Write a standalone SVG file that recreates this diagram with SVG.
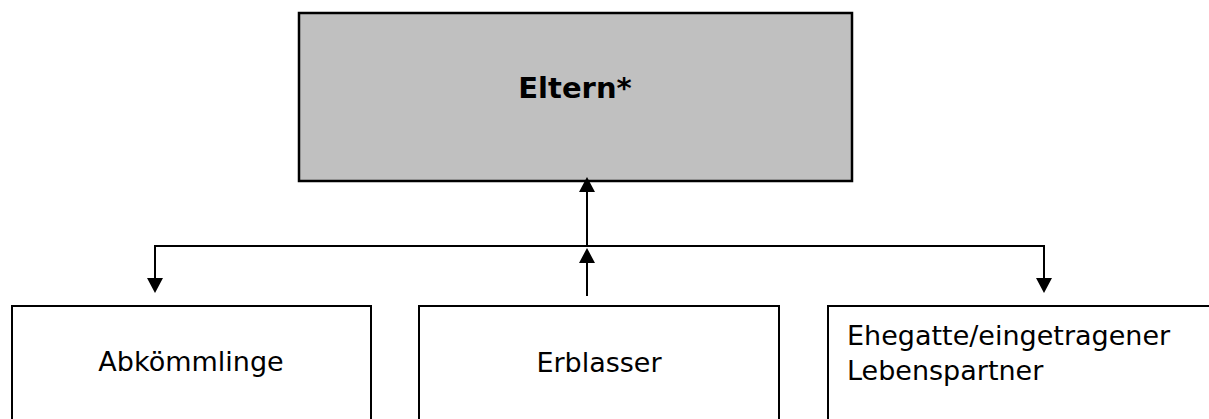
<svg xmlns="http://www.w3.org/2000/svg" width="1209" height="419" viewBox="0 0 1209 419">
<style>
.box{fill:#ffffff;stroke:#000000;stroke-width:2}
.top{fill:#c0c0c0;stroke:#000000;stroke-width:2.5}
.lbl{font-family:"DejaVu Sans","Verdana",sans-serif;font-size:27px;fill:#000000}
.bold{font-weight:bold;font-size:29px}
.con{fill:none;stroke:#000000;stroke-width:2;marker-end:url(#ah)}
</style>
<defs>
<marker id="ah" markerUnits="userSpaceOnUse" markerWidth="16" markerHeight="18" viewBox="0 -9 16 18" refX="10" refY="0" orient="auto">
<path d="M0,-8 L15,0 L0,8 z" fill="#000000"/>
</marker>
</defs>
<g id="node-eltern">
<rect class="top" x="299" y="13" width="553" height="168"/>
<text class="lbl bold" x="575" y="98" text-anchor="middle">Eltern*</text>
</g>
<g id="node-abkoemmlinge">
<rect class="box" x="12" y="306" width="359" height="130"/>
<text class="lbl" x="191" y="371" text-anchor="middle">Abkömmlinge</text>
</g>
<g id="node-erblasser">
<rect class="box" x="419" y="306" width="360" height="130"/>
<text class="lbl" x="599" y="372" text-anchor="middle">Erblasser</text>
</g>
<g id="node-ehegatte">
<rect class="box" x="828" y="306" width="420" height="130"/>
<text class="lbl" x="847" y="345">Ehegatte/eingetragener</text>
<text class="lbl" x="847" y="380">Lebenspartner</text>
</g>
<g id="connectors">
<path class="con" d="M587,296 V253"/>
<path class="con" d="M587,247 V182"/>
<path class="con" d="M587,246 H155 V288"/>
<path class="con" d="M587,246 H1044 V288"/>
</g>
</svg>
